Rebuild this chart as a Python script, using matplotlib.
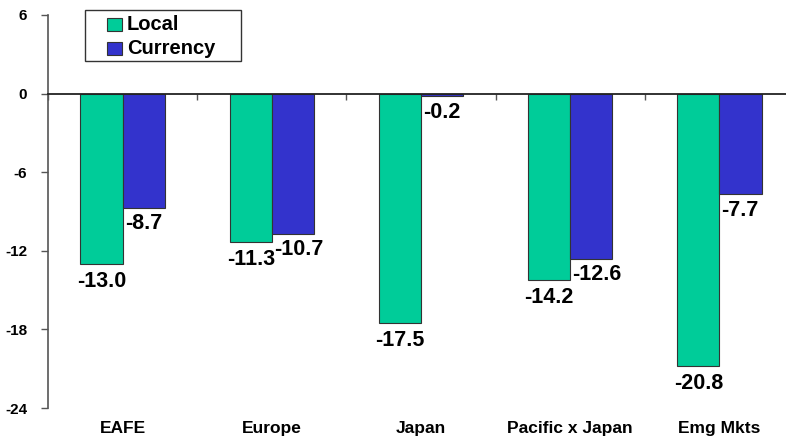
import matplotlib
matplotlib.use("Agg")
import matplotlib.pyplot as plt
import matplotlib.transforms as mtransforms
from matplotlib.patches import Rectangle
import numpy as np

categories = ["EAFE", "Europe", "Japan", "Pacific x Japan", "Emg Mkts"]
local = [-13.0, -11.3, -17.5, -14.2, -20.8]
currency = [-8.7, -10.7, -0.2, -12.6, -7.7]
yticks = [-24, -18, -12, -6, 0, 6]
series_names = ["Local", "Currency"]

GREEN = "#00CC99"
BLUE = "#3333CC"
EDGE = "#333333"

plt.rcParams["font.family"] = ["Liberation Sans", "DejaVu Sans"]
plt.rcParams["font.weight"] = "bold"

W, H = 786, 442
fig = plt.figure(figsize=(W / 100, H / 100), dpi=100)
ax = fig.add_axes([48 / W, 1 - 408 / H, 746 / W, 393 / H])

x = np.arange(len(categories))
bw = 0.283
ax.bar(x - bw / 2, local, bw, color=GREEN, edgecolor=EDGE, linewidth=0.8, zorder=2)
ax.bar(x + bw / 2, currency, bw, color=BLUE, edgecolor=EDGE, linewidth=0.8, zorder=2)

ax.set_xlim(-0.5, len(categories) - 0.5)
ax.set_ylim(-24, 6)

# left value axis plus a category axis crossing at zero
for s in ["top", "right"]:
    ax.spines[s].set_visible(False)
ax.spines["bottom"].set_position(("data", 0))
ax.spines["bottom"].set_color("#222222")
ax.spines["bottom"].set_linewidth(1.3)
ax.spines["bottom"].set_zorder(3)
ax.spines["left"].set_color("#555555")
ax.spines["left"].set_linewidth(1.2)

ax.set_xticks(np.arange(len(categories) + 1) - 0.5)
ax.set_xticklabels([])
ax.tick_params(axis="x", direction="out", length=4, width=1, color="#555555")

ax.set_yticks(yticks)
ax.set_yticklabels([str(t) for t in yticks])
ax.tick_params(axis="y", direction="out", length=5, width=1, color="#555555", pad=10,
               labelsize=11, labelcolor="black")

# category names under the plot
trans = mtransforms.blended_transform_factory(ax.transData, ax.transAxes)
for xi, name in zip(x, categories):
    ax.annotate(name, (xi, 0), xycoords=trans, xytext=(0, -9.5), textcoords="offset points",
                ha="center", va="top", fontweight="bold", fontsize=12.5)

# value labels
for xi, v in zip(x, local):
    ax.annotate(f"{v:.1f}", (xi - bw / 2, v), xytext=(0, -5), textcoords="offset points",
                ha="center", va="top", fontweight="bold", fontsize=15.5)
for xi, v in zip(x, currency):
    ax.annotate(f"{v:.1f}", (xi, v), xytext=(1.5, -4), textcoords="offset points",
                ha="left", va="top", fontweight="bold", fontsize=15.5)

# legend box, laid out in pixel coordinates (origin at top-left)
pix = mtransforms.Affine2D().scale(1 / W, -1 / H).translate(0, 1) + fig.transFigure
fig.patches.append(Rectangle((85, 10), 156, 51, transform=pix, facecolor="white",
                             edgecolor=EDGE, linewidth=1.0, zorder=5))
for i, (name, col) in enumerate(zip(series_names, [GREEN, BLUE])):
    y0 = 18 + i * 24
    fig.patches.append(Rectangle((107, y0), 15, 13, transform=pix, facecolor=col,
                                 edgecolor=EDGE, linewidth=0.8, zorder=6))
    fig.text(127, y0 + 6.5, name, transform=pix, ha="left", va="center",
             fontweight="bold", fontsize=14.5, zorder=7)

fig.savefig("out.png", dpi=100)
